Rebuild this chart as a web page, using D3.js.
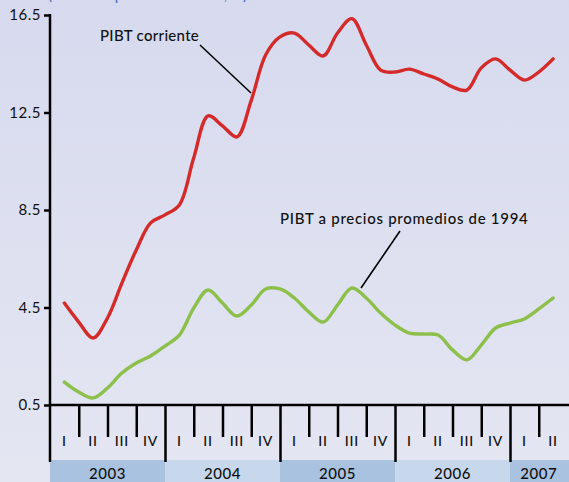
<!DOCTYPE html>
<html>
<head>
<meta charset="utf-8">
<script src="https://cdn.jsdelivr.net/npm/d3@7"></script>
<style>
  body { margin: 0; }
  svg { display: block; font-family: Lato, 'DejaVu Sans', sans-serif; }
</style>
</head>
<body>
<svg id="chart"></svg>
<script>
// Years shown in the bottom band and the quarters inside each year.
const years = ['2003', '2004', '2005', '2006', '2007'];
const quartersPerYear = [4, 4, 4, 4, 2];
const quarterLabels = ['I', 'II', 'III', 'IV'];
const yTicks = [0.5, 4.5, 8.5, 12.5, 16.5];

// Readings every half quarter, from the middle of 2003 I to the middle of 2007 II.
const pibtCorriente = [
  4.68, 3.9, 3.25, 4.07, 5.5, 6.86, 7.97, 8.3, 8.71, 10.64,
  12.36, 11.95, 11.5, 13.0, 14.86, 15.6, 15.76, 15.27, 14.82, 15.76,
  16.35, 15.27, 14.24, 14.16, 14.28, 14.08, 13.87, 13.55, 13.42, 14.33,
  14.7, 14.24, 13.83, 14.16, 14.7
];
const pibtConstante = [
  1.44, 1.03, 0.79, 1.2, 1.81, 2.22, 2.51, 2.92, 3.37, 4.48,
  5.22, 4.68, 4.15, 4.6, 5.26, 5.26, 4.89, 4.32, 3.9, 4.6,
  5.3, 4.89, 4.27, 3.78, 3.45, 3.41, 3.37, 2.76, 2.35, 2.96,
  3.66, 3.86, 4.03, 4.44, 4.89
];

const width = 569;
const height = 482;
const axisY = 405;
const bandTop = 460;

const svg = d3.select('#chart').attr('width', width).attr('height', height);

// Soft lavender background, a bit lighter towards the bottom.
const grad = svg.append('defs').append('linearGradient')
  .attr('id', 'bg').attr('x1', 0).attr('y1', 0).attr('x2', 0).attr('y2', 1);
grad.append('stop').attr('offset', '0%').attr('stop-color', '#d7daee');
grad.append('stop').attr('offset', '100%').attr('stop-color', '#e4e6f2');
svg.append('rect').attr('width', width).attr('height', height).attr('fill', 'url(#bg)');

// Title line cut off by the top edge (only its descenders show, as in the original).
svg.append('text')
  .attr('x', 48).attr('y', 0)
  .attr('fill', '#3b6fc0').attr('font-size', 15)
  .text('(variación porcentual anual, %)');

const totalQuarters = d3.sum(quartersPerYear);
const x = d3.scaleLinear().domain([0, totalQuarters]).range([50, 567.5]);
const y = d3.scaleLinear().domain([0.5, 16.5]).range([axisY, 15]);

// Year bands.
let start = 0;
const yearSpans = years.map((yr, i) => {
  const span = { year: yr, start, end: start + quartersPerYear[i], i };
  start += quartersPerYear[i];
  return span;
});

svg.append('g').selectAll('rect')
  .data(yearSpans)
  .join('rect')
  .attr('x', (d) => x(d.start))
  .attr('width', (d) => (d.i === yearSpans.length - 1 ? width - x(d.start) : x(d.end) - x(d.start)))
  .attr('y', bandTop)
  .attr('height', height - bandTop)
  .attr('fill', (d) => (d.i % 2 === 0 ? '#a8c2e0' : '#c8d8ec'));

svg.append('g').selectAll('text')
  .data(yearSpans)
  .join('text')
  .attr('x', (d) => (x(d.start) + Math.min(x(d.end), width)) / 2)
  .attr('y', 479)
  .attr('text-anchor', 'middle')
  .attr('font-size', 15)
  .attr('font-weight', 500)
  .attr('letter-spacing', 0.6)
  .attr('fill', '#111')
  .text((d) => d.year);

// Quarter ticks: short ones inside a year, long ones at year boundaries.
const yearBounds = yearSpans.map((d) => d.start);
const innerBounds = d3.range(1, totalQuarters).filter((q) => !yearBounds.includes(q));

svg.append('g')
  .attr('transform', `translate(0,${axisY})`)
  .call(d3.axisBottom(x).tickValues(innerBounds).tickSize(32).tickFormat(''))
  .call((g) => g.select('.domain').remove())
  .call((g) => g.selectAll('line').attr('stroke', '#000').attr('stroke-width', 2.5));

svg.append('g')
  .attr('transform', `translate(0,${axisY})`)
  .call(d3.axisBottom(x).tickValues(yearBounds.slice(1)).tickSize(bandTop + 2 - axisY).tickFormat(''))
  .call((g) => g.select('.domain').remove())
  .call((g) => g.selectAll('line').attr('stroke', '#000').attr('stroke-width', 2.5));

svg.append('line')
  .attr('x1', x(0)).attr('x2', width)
  .attr('y1', axisY).attr('y2', axisY)
  .attr('stroke', '#000').attr('stroke-width', 2.5);

// Roman numeral quarter labels.
const quarterCells = yearSpans.flatMap((d) =>
  d3.range(quartersPerYear[d.i]).map((q) => ({ pos: d.start + q + 0.5, label: quarterLabels[q] }))
);
svg.append('g').selectAll('text')
  .data(quarterCells)
  .join('text')
  .attr('x', (d) => x(d.pos))
  .attr('y', 446)
  .attr('text-anchor', 'middle')
  .attr('font-size', 14)
  .attr('font-weight', 500)
  .attr('letter-spacing', 0.8)
  .attr('fill', '#111')
  .text((d) => d.label);

// Y axis.
svg.append('g')
  .attr('transform', `translate(${x(0)},0)`)
  .call(d3.axisLeft(y).tickValues(yTicks).tickSize(6).tickSizeOuter(0).tickFormat(d3.format('.1f')))
  .call((g) => g.select('.domain').remove())
  .call((g) => g.selectAll('line').attr('stroke', '#000').attr('stroke-width', 2.5))
  .call((g) => g.selectAll('text')
    .attr('font-size', 15).attr('fill', '#111').attr('x', -9)
    .attr('letter-spacing', 0.5).attr('font-family', 'Lato, sans-serif'));

svg.append('line')
  .attr('x1', x(0)).attr('x2', x(0))
  .attr('y1', y(16.5) - 1).attr('y2', bandTop + 2)
  .attr('stroke', '#000').attr('stroke-width', 2.5);

// Series lines.
const pos = (i) => 0.5 + i / 2;
const line = d3.line()
  .x((d, i) => x(pos(i)))
  .y((d) => y(d))
  .curve(d3.curveCatmullRom.alpha(0.5));

svg.append('path')
  .datum(pibtConstante)
  .attr('d', line)
  .attr('fill', 'none')
  .attr('stroke', '#8cc04a')
  .attr('stroke-width', 3.4)
  .attr('stroke-linejoin', 'round')
  .attr('stroke-linecap', 'round');

svg.append('path')
  .datum(pibtCorriente)
  .attr('d', line)
  .attr('fill', 'none')
  .attr('stroke', '#d42a2a')
  .attr('stroke-width', 3.4)
  .attr('stroke-linejoin', 'round')
  .attr('stroke-linecap', 'round');

// Series labels with leader lines.
svg.append('text')
  .attr('x', 100).attr('y', 41)
  .attr('font-size', 15).attr('font-weight', 500).attr('letter-spacing', 0.3).attr('fill', '#111')
  .text('PIBT corriente');
svg.append('line')
  .attr('x1', 200).attr('y1', 45).attr('x2', 251).attr('y2', 93)
  .attr('stroke', '#000').attr('stroke-width', 1.6);

svg.append('text')
  .attr('x', 280).attr('y', 224)
  .attr('font-size', 15).attr('font-weight', 500).attr('letter-spacing', 0.7).attr('fill', '#111')
  .text('PIBT a precios promedios de 1994');
svg.append('line')
  .attr('x1', 400).attr('y1', 231).attr('x2', 361).attr('y2', 288)
  .attr('stroke', '#000').attr('stroke-width', 1.6);
</script>
</body>
</html>
